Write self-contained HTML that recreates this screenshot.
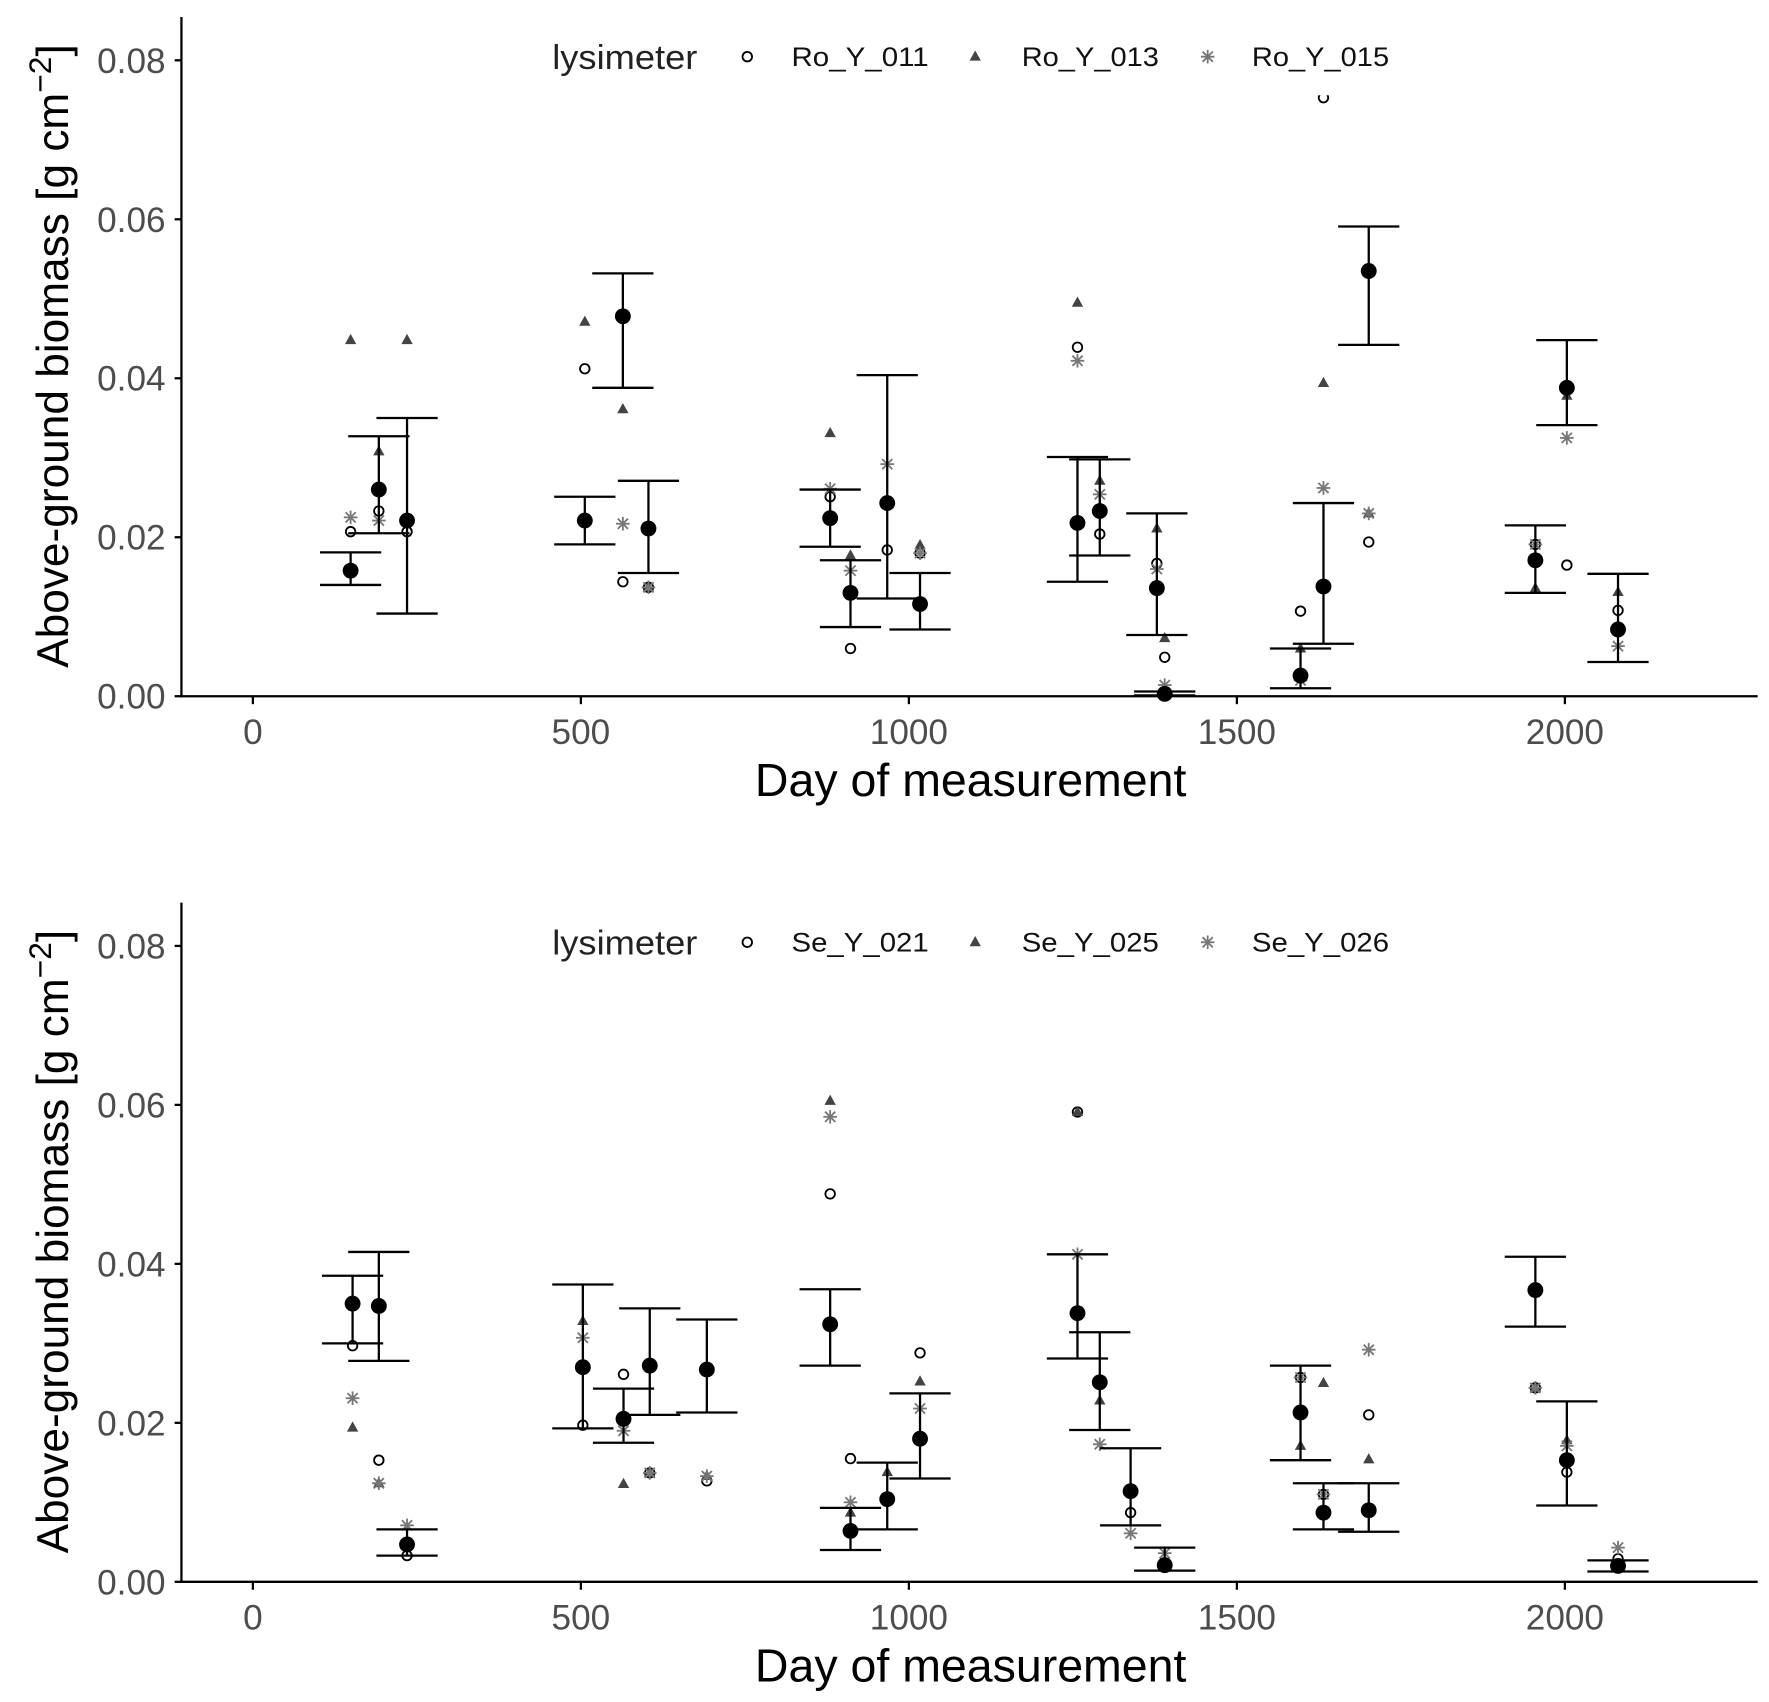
<!DOCTYPE html>
<html><head><meta charset="utf-8"><style>
html,body{margin:0;padding:0;background:#fff}
svg{display:block}
text{font-family:"Liberation Sans",Arial,sans-serif}
</style></head><body>
<svg id="chart" width="1769" height="1702" viewBox="0 0 1560 1501" preserveAspectRatio="none" xmlns="http://www.w3.org/2000/svg"></svg>
<script>
// ---- data (days; biomass g cm^-2) ----
const ticksX = [0, 500, 1000, 1500, 2000];
const ticksY = [0, 0.02, 0.04, 0.06, 0.08];
const tickLabelsY = ["0.00", "0.02", "0.04", "0.06", "0.08"];
const legendTop = ["Ro_Y_011", "Ro_Y_013", "Ro_Y_015"];
const legendBottom = ["Se_Y_021", "Se_Y_025", "Se_Y_026"];

const topDays   = [149,192,235,506,564,603,880,911,967,1017,1257,1291,1378,1390,1597,1632,1701,1955,2003,2081];
const topMean   = [0.0158,0.026,0.0221,0.0221,0.0478,0.0211,0.0224,0.013,0.0243,0.0116,0.0218,0.0233,0.0136,0.0003,0.0026,0.0138,0.0535,0.0171,0.0388,0.0084];
const topLo     = [0.014,0.0205,0.0104,0.0191,0.0388,0.0155,0.0188,0.0087,0.0123,0.0084,0.0144,0.0177,0.0077,0.0001,0.001,0.0066,0.0442,0.013,0.0341,0.0043];
const topHi     = [0.0181,0.0327,0.035,0.0251,0.0532,0.0271,0.026,0.0171,0.0404,0.0155,0.0301,0.0298,0.023,0.0006,0.006,0.0243,0.0591,0.0215,0.0448,0.0154];
const topCircle = [0.0207,0.0233,0.0207,0.0412,0.0144,0.0137,0.0251,0.006,0.0184,0.018,0.0439,0.0204,0.0167,0.0049,0.0107,0.0753,0.0194,0.0191,0.0165,0.0108];
const topTri    = [0.0448,0.0308,0.0448,0.0471,0.0361,0.0137,0.0331,0.0177,0.0243,0.019,0.0495,0.0271,0.0211,0.0073,0.006,0.0394,0.023,0.0136,0.0378,0.0131];
const topStar   = [0.0225,0.0221,0.0221,0.0221,0.0217,0.0137,0.0261,0.0158,0.0292,0.018,0.0422,0.0254,0.016,0.0014,0.002,0.0262,0.023,0.0191,0.0325,0.0063];

const botDays   = [152,192,235,503,565,605,692,880,911,967,1017,1257,1291,1338,1390,1597,1632,1701,1955,2003,2081];
const botMean   = [0.035,0.0347,0.0047,0.027,0.0205,0.0272,0.0267,0.0324,0.0064,0.0104,0.018,0.0338,0.0251,0.0114,0.0021,0.0213,0.0087,0.009,0.0367,0.0153,0.002];
const botLo     = [0.03,0.0278,0.0033,0.0193,0.0175,0.021,0.0213,0.0272,0.004,0.0066,0.013,0.0281,0.0191,0.0071,0.0014,0.0153,0.0066,0.0063,0.0321,0.0096,0.0013];
const botHi     = [0.0385,0.0415,0.0066,0.0374,0.0243,0.0344,0.033,0.0368,0.0093,0.015,0.0237,0.0412,0.0314,0.0168,0.0043,0.0272,0.0124,0.0124,0.0409,0.0227,0.0027];
const botCircle = [0.0297,0.0153,0.0033,0.0197,0.0261,0.0137,0.0127,0.0488,0.0155,0.0104,0.0288,0.0591,0.0251,0.0087,0.0018,0.0257,0.011,0.021,0.0244,0.0138,0.0029];
const botTri    = [0.0194,0.0124,0.0047,0.0328,0.0123,0.0137,0.0133,0.0605,0.0087,0.0138,0.0252,0.0591,0.0228,0.0114,0.0024,0.0171,0.025,0.0154,0.0244,0.0178,0.0017];
const botStar   = [0.0231,0.0124,0.0071,0.0307,0.019,0.0137,0.0133,0.0585,0.01,0.0104,0.0218,0.0412,0.0173,0.0061,0.0036,0.0257,0.011,0.0292,0.0244,0.0171,0.0043];

const NS = "http://www.w3.org/2000/svg";
const svg = document.getElementById("chart");
function mk(tag, attrs, parent) {
  const e = document.createElementNS(NS, tag);
  for (const k in attrs) e.setAttribute(k, attrs[k]);
  (parent || svg).appendChild(e);
  return e;
}

function panel(top, days, mean, lo, hi, circ, tri, star, legend, pname) {
  const g = mk("g", {});
  
  
  const x0 = 160, x1 = 1550, yBase = top + 599, yTop = top;
  const sx = d => 223 + d * 0.5785;
  const sy = v => yBase - v * 7010;

  const marks = mk("g", {}, g);
  
  
  for (let i = 0; i < days.length; i++) {
    const x = sx(days[i]);
    const c = mk("circle", {cx: x, cy: sy(circ[i]), r: 4.2, fill: "none", stroke: "#000", "stroke-width": 1.6}, marks);
    
    
    const ty = sy(tri[i]);
    const t = mk("polygon", {points: `${x},${ty-5.5} ${x-5},${ty+3.5} ${x+5},${ty+3.5}`, fill: "#444"}, marks);
    
    
    const st = mk("g", {stroke: "#777", "stroke-width": 1.6}, marks);
    
    
    const yy = sy(star[i]);
    mk("line", {x1: x-6, y1: yy, x2: x+6, y2: yy}, st);
    mk("line", {x1: x, y1: yy-6, x2: x, y2: yy+6}, st);
    mk("line", {x1: x-4.5, y1: yy-4.5, x2: x+4.5, y2: yy+4.5}, st);
    mk("line", {x1: x-4.5, y1: yy+4.5, x2: x+4.5, y2: yy-4.5}, st);
  }
  for (let i = 0; i < days.length; i++) {
    const x = sx(days[i]);
    const eb = mk("g", {stroke: "#000", "stroke-width": 2}, marks);
    
    
    mk("line", {x1: x, y1: sy(lo[i]), x2: x, y2: sy(hi[i])}, eb);
    mk("line", {x1: x-27, y1: sy(lo[i]), x2: x+27, y2: sy(lo[i])}, eb);
    mk("line", {x1: x-27, y1: sy(hi[i]), x2: x+27, y2: sy(hi[i])}, eb);
    const m = mk("circle", {cx: x, cy: sy(mean[i]), r: 7, fill: "#000"}, marks);
    
    
  }

  const lg = mk("g", {}, g);
  
  
  mk("rect", {x: 470, y: top + 17, width: 780, height: 52, fill: "#fff"}, lg);
  const lt = mk("text", {x: 487, y: top + 46, "font-size": 30, fill: "#222", textLength: 128, lengthAdjust: "spacingAndGlyphs"}, lg);
  lt.textContent = "lysimeter";
  const ly = top + 35;
  mk("circle", {cx: 659, cy: ly, r: 4.2, fill: "none", stroke: "#000", "stroke-width": 1.6}, lg);
  mk("polygon", {points: `860,${ly-5.5} 855,${ly+3.5} 865,${ly+3.5}`, fill: "#444"}, lg);
  const ls = mk("g", {stroke: "#777", "stroke-width": 1.6}, lg);
  mk("line", {x1: 1059, y1: ly, x2: 1071, y2: ly}, ls);
  mk("line", {x1: 1065, y1: ly-6, x2: 1065, y2: ly+6}, ls);
  mk("line", {x1: 1060.5, y1: ly-4.5, x2: 1069.5, y2: ly+4.5}, ls);
  mk("line", {x1: 1060.5, y1: ly+4.5, x2: 1069.5, y2: ly-4.5}, ls);
  [[698, legend[0]], [901, legend[1]], [1104, legend[2]]].forEach(([x, s]) => {
    const t = mk("text", {x: x, y: top + 43, "font-size": 24, fill: "#111", textLength: 121, lengthAdjust: "spacingAndGlyphs"}, lg);
    
    
    t.textContent = s;
  });

  const ax = mk("g", {stroke: "#000", "stroke-width": 2}, g);
  
  
  mk("line", {x1: x0, y1: yTop, x2: x0, y2: yBase + 1}, ax);
  mk("line", {x1: x0 - 1, y1: yBase, x2: x1, y2: yBase}, ax);
  ticksY.forEach((v, i) => {
    mk("line", {x1: x0 - 6, y1: sy(v), x2: x0, y2: sy(v)}, ax);
    const t = mk("text", {x: 146, y: sy(v) + 11, "font-size": 31, fill: "#4d4d4d", "text-anchor": "end", stroke: "none"}, g);
    
    
    t.textContent = tickLabelsY[i];
  });
  ticksX.forEach(d => {
    mk("line", {x1: sx(d), y1: yBase, x2: sx(d), y2: yBase + 7}, ax);
    const t = mk("text", {x: sx(d), y: yBase + 42, "font-size": 31, fill: "#4d4d4d", "text-anchor": "middle", stroke: "none"}, g);
    
    
    t.textContent = String(d);
  });
  const xt = mk("text", {x: 856, y: yBase + 88, "font-size": 41, fill: "#000", "text-anchor": "middle"}, g);
  
  
  xt.textContent = "Day of measurement";
  const yt = mk("text", {transform: `translate(60,${top + 299}) rotate(-90)`, "font-size": 39, fill: "#000", "text-anchor": "middle"}, g);
  
  
  yt.innerHTML = 'Above-ground biomass [g cm<tspan dy="-15" font-size="28">−2</tspan><tspan dy="15">]</tspan>';
}

panel(15, topDays, topMean, topLo, topHi, topCircle, topTri, topStar, legendTop, "top-panel");
panel(796, botDays, botMean, botLo, botHi, botCircle, botTri, botStar, legendBottom, "bottom-panel");
</script>
</body></html>
